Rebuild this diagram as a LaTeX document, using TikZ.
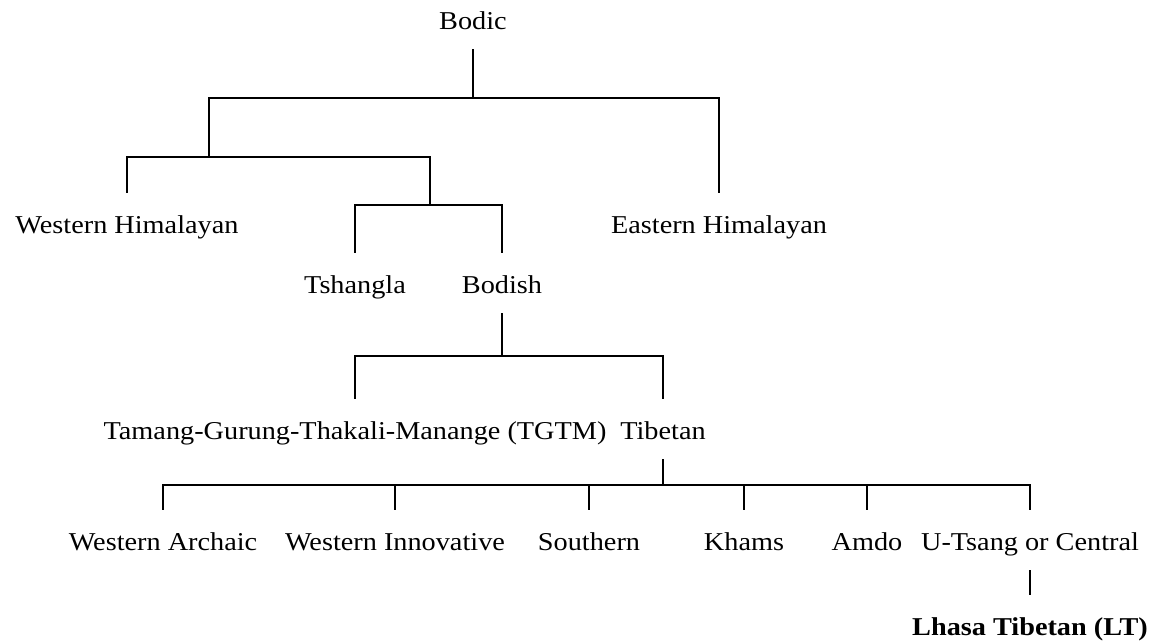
\documentclass[tikz,border=0pt]{standalone}
\usepackage{fontspec}
\setmainfont[FakeStretch=1.1]{Liberation Serif}
\tikzset{
    lang/.style={anchor=base, inner sep=0pt, text height=17pt, text depth=5pt},
    branch/.style={line width=1.2pt},
    fromtext/.style={branch, shorten <=15pt},
    totext/.style={branch, shorten >=23pt}
}
\begin{document}
\begin{tikzpicture}[x=1pt, y=-1pt, font=\fontsize{25.7}{30}\selectfont]
    \useasboundingbox (0,0) rectangle (1151,641);

    \node[lang] (bodic) at (473,29) {Bodic};
    \node[lang] (whim) at (127,233) {Western Himalayan};
    \node[lang] (ehim) at (719,233) {Eastern Himalayan};
    \node[lang] (tshangla) at (355,293) {Tshangla};
    \node[lang] (bodish) at (502,293) {Bodish};
    \node[lang] (tgtm) at (355,439) {Tamang-Gurung-Thakali-Manange (TGTM)};
    \node[lang] (tibetan) at (663,439) {Tibetan};
    \node[lang] (warch) at (163,550) {Western Archaic};
    \node[lang] (winno) at (395,550) {Western Innovative};
    \node[lang] (south) at (589,550) {Southern};
    \node[lang] (khams) at (744,550) {Khams};
    \node[lang] (amdo) at (867,550) {Amdo};
    \node[lang] (utsang) at (1030,550) {U-Tsang or Central};
    \node[lang] (lhasa) at (1030,635) {\bfseries Lhasa Tibetan (LT)};

    \coordinate (bar1) at (0,98);
    \coordinate (bar2) at (0,356);
    \coordinate (bar3) at (0,485);
    \coordinate (westbr) at (209,157);
    \coordinate (centbr) at (430,205);

    % upper part
    \draw[fromtext] (bodic.south) -- (bodic.south |- bar1) -| (westbr);
    \draw[fromtext, totext] (bodic.south) -- (bodic.south |- bar1) -| (ehim.north);
    \draw[totext] (westbr) -| (whim.north);
    \draw[branch] (westbr) -| (centbr);
    \draw[totext] (centbr) -| (tshangla.north);
    \draw[totext] (centbr) -| (bodish.north);

    % bodish and tibetan
    \draw[fromtext, totext] (bodish.south) -- (bodish.south |- bar2) -| (tgtm.north);
    \draw[fromtext, totext] (bodish.south) -- (bodish.south |- bar2) -| (tibetan.north);
    \foreach \n in {warch, winno, south, khams, amdo, utsang}
        \draw[fromtext, totext] (tibetan.south) -- (tibetan.south |- bar3) -| (\n.north);
    \draw[fromtext, totext] (utsang.south) -- (lhasa.north);
\end{tikzpicture}
\end{document}
